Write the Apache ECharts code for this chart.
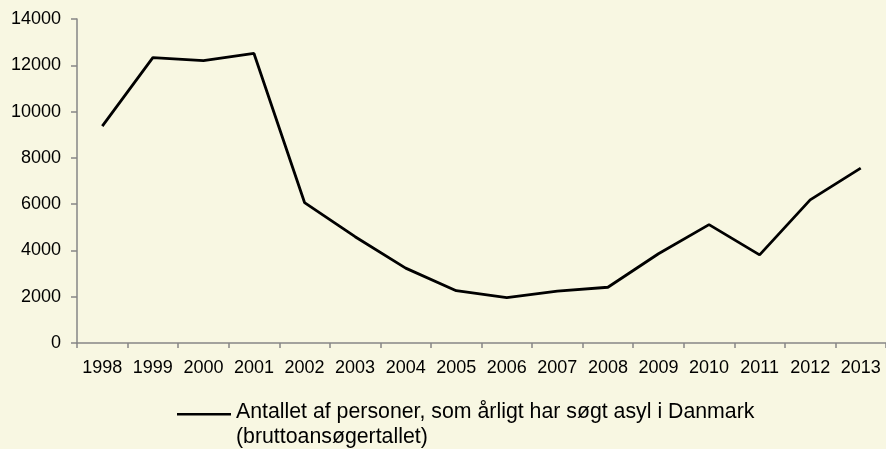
<!DOCTYPE html>
<html>
<head>
<meta charset="utf-8">
<script src="https://cdn.jsdelivr.net/npm/echarts@6/dist/echarts.min.js"></script>
<style>
  html, body { margin: 0; padding: 0; background: #f8f7e2; }
  #chart { width: 886px; height: 449px; }
</style>
</head>
<body>
<div id="chart"></div>
<script>
const years = ['1998', '1999', '2000', '2001', '2002', '2003', '2004', '2005',
  '2006', '2007', '2008', '2009', '2010', '2011', '2012', '2013'];
const asylumSeekers = [9370, 12331, 12200, 12512, 6068, 4593, 3235, 2260,
  1960, 2246, 2409, 3855, 5115, 3806, 6184, 7557];
const seriesName = 'Antallet af personer, som årligt har søgt asyl i Danmark\n(bruttoansøgertallet)';

const chart = echarts.init(document.getElementById('chart'));

chart.setOption({
  backgroundColor: '#f8f7e2',
  animation: false,
  textStyle: { fontFamily: 'Liberation Sans, Arial, sans-serif' },
  grid: { left: 77, right: 0, top: 19, bottom: 106 },
  legend: {
    left: 177,
    top: 400,
    padding: 0,
    // bar sits at the top of the icon box so it lines up with the first text line
    icon: 'path://M0,0H112.5V5H0Z M0,50H0.01V50.01H0Z',
    itemWidth: 54,
    itemHeight: 24,
    textStyle: {
      color: '#000',
      fontSize: 21.3,
      lineHeight: 25
    },
    data: [seriesName]
  },
  xAxis: {
    type: 'category',
    data: years,
    boundaryGap: true,
    axisLine: { lineStyle: { color: '#868686', width: 1.5 } },
    axisTick: { show: true, length: 5, lineStyle: { color: '#868686', width: 1.5 } },
    axisLabel: { color: '#000', fontSize: 18, margin: 16, interval: 0 }
  },
  yAxis: {
    type: 'value',
    min: 0,
    max: 14000,
    interval: 2000,
    axisLine: { show: true, lineStyle: { color: '#868686', width: 1.5 } },
    axisTick: { show: true, length: 6, lineStyle: { color: '#868686', width: 1.5 } },
    splitLine: { show: false },
    axisLabel: { color: '#000', fontSize: 18, margin: 16, formatter: (v) => String(v) }
  },
  series: [
    {
      name: seriesName,
      type: 'line',
      data: asylumSeekers,
      symbol: 'none',
      lineStyle: { color: '#000', width: 2.8 },
      itemStyle: { color: '#000' }
    }
  ]
});
</script>
</body>
</html>
